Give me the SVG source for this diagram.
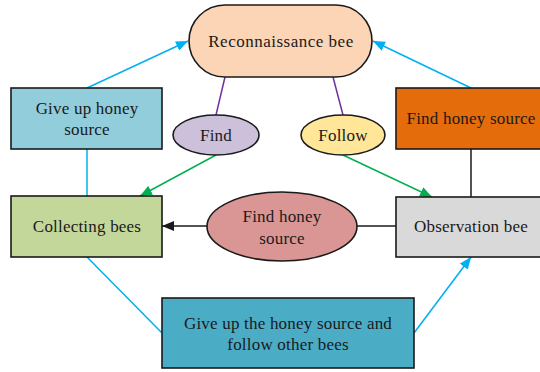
<svg xmlns="http://www.w3.org/2000/svg" width="540" height="372" viewBox="0 0 540 372">
<style>
.n{stroke:#1a1a1a;stroke-width:1.6}
.t{font-family:"Liberation Serif","Times New Roman",serif;font-size:17px;letter-spacing:0.2px;fill:#1a1a1a;text-anchor:middle}
.c{fill:none;stroke-width:1.5}
.b{stroke:#00B0F0}
.g{stroke:#00B050}
.p{stroke:#7030A0}
.k{stroke:#1a1a1a}
</style>
<defs>
<marker id="ab" viewBox="0 0 12 10" refX="12" refY="5" markerWidth="12" markerHeight="10" markerUnits="userSpaceOnUse" orient="auto"><path d="M0,0L12,5L0,10z" fill="#00B0F0"/></marker>
<marker id="ag" viewBox="0 0 12 10" refX="12" refY="5" markerWidth="12" markerHeight="10" markerUnits="userSpaceOnUse" orient="auto"><path d="M0,0L12,5L0,10z" fill="#00B050"/></marker>
<marker id="ak" viewBox="0 0 12 10" refX="12" refY="5" markerWidth="12" markerHeight="10" markerUnits="userSpaceOnUse" orient="auto"><path d="M0,0L12,5L0,10z" fill="#1a1a1a"/></marker>
</defs>
<g id="connectors">
<path class="c b" d="M87,88L188,41" marker-end="url(#ab)"/>
<path class="c b" d="M471,88L373,41" marker-end="url(#ab)"/>
<path class="c b" d="M87,149L87,196"/>
<path class="c p" d="M216,115L225,77"/>
<path class="c p" d="M343,115L333,77"/>
<path class="c g" d="M216,155L140,196" marker-end="url(#ag)"/>
<path class="c g" d="M343,155L432,197" marker-end="url(#ag)"/>
<path class="c k" d="M471,149L471,197"/>
<path class="c k" d="M207,226L162,226" marker-end="url(#ak)"/>
<path class="c k" d="M357,226L396,226"/>
<path class="c b" d="M87,257L162,333"/>
<path class="c b" d="M414,333L471,257" marker-end="url(#ab)"/>
</g>
<g id="reconnaissance">
<rect class="n" x="189" y="5" width="183" height="72" rx="36" ry="36" fill="#FBD5B5"/>
<text class="t" x="281" y="47" style="letter-spacing:0.5px">Reconnaissance bee</text>
</g>
<g id="giveup">
<rect class="n" x="11" y="88" width="151" height="61" fill="#92CDDC"/>
<text class="t" x="87" y="114">Give up honey</text>
<text class="t" x="87" y="135">source</text>
</g>
<g id="find">
<ellipse class="n" cx="216" cy="135" rx="43" ry="20" fill="#CCC0DA"/>
<text class="t" x="216" y="141">Find</text>
</g>
<g id="follow">
<ellipse class="n" cx="343" cy="135" rx="42" ry="20" fill="#FFE699"/>
<text class="t" x="343" y="141">Follow</text>
</g>
<g id="findsource">
<rect class="n" x="396" y="88" width="151" height="61" fill="#E46C0A"/>
<text class="t" x="471" y="124">Find honey source</text>
</g>
<g id="collecting">
<rect class="n" x="11" y="196" width="151" height="61" fill="#C4D79B"/>
<text class="t" x="87" y="232">Collecting bees</text>
</g>
<g id="findellipse">
<ellipse class="n" cx="282" cy="226.5" rx="75" ry="34.5" fill="#DA9694"/>
<text class="t" x="282" y="222">Find honey</text>
<text class="t" x="282" y="244">source</text>
</g>
<g id="observation">
<rect class="n" x="396" y="197" width="151" height="60" fill="#D9D9D9"/>
<text class="t" x="471" y="232">Observation bee</text>
</g>
<g id="giveupfollow">
<rect class="n" x="162" y="298" width="252" height="70" fill="#4BACC6"/>
<text class="t" x="288" y="329">Give up the honey source and</text>
<text class="t" x="288" y="350">follow other bees</text>
</g>
</svg>
